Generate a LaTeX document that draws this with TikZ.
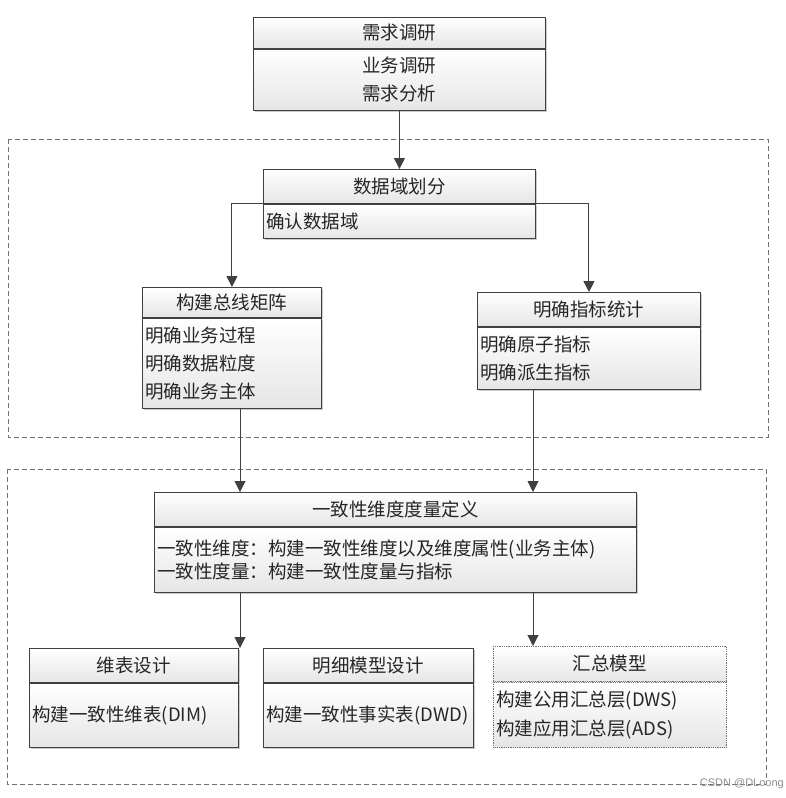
\documentclass[tikz,border=0pt]{standalone}
\usepackage{fontspec}
\setmainfont{Noto Sans CJK SC}
\newfontfamily\wmfont{Liberation Sans}
\usetikzlibrary{arrows.meta,shadows}
\tikzset{
  edge/.style={draw=black!75, line width=0.9pt},
  secbase/.style={top color=white, bottom color=black!10, inner sep=0pt, anchor=north west,
    font=\fontsize{18.5}{28}\selectfont, text=black!85},
  sec/.style={secbase, edge, drop shadow={shadow xshift=1.5pt, shadow yshift=-1.5pt, opacity=0.35, fill=black!60}},
  hdr/.style n args={2}{sec, minimum width=#1, minimum height=#2, align=center},
  bodyc/.style n args={2}{sec, minimum width=#1, minimum height=#2, align=center},
  bodyl/.style n args={2}{sec, text width=#1, inner xsep=3pt, minimum height=#2, align=left},
  dotsec/.style={secbase, draw=black!55, line width=0.8pt, densely dotted},
  region/.style={draw=black!55, line width=0.8pt, dash pattern=on 5pt off 3pt},
  arr/.style={draw=black!75, line width=1pt, -{Triangle[length=11pt,width=11pt]}},
}
\begin{document}
\begin{tikzpicture}[x=1pt,y=-1pt]
\useasboundingbox (0,0) rectangle (786,798);
% regions
\draw[region] (8,139) rectangle (768,437);
\draw[region] (7,469) rectangle (766,784);
% requirement
\node[hdr={292pt}{31pt}] (reqh) at (253,17) {需求调研};
\node[bodyc={292pt}{61pt}] (reqb) at (reqh.south west) {业务调研\\需求分析};
% data domain
\node[hdr={272pt}{34pt}] (dh) at (263,169) {数据域划分};
\node[bodyl={266pt}{34pt}] (db) at (dh.south west) {确认数据域};
% bus matrix
\node[hdr={179pt}{30pt}] (bush) at (142,287) {构建总线矩阵};
\node[bodyl={173pt}{90pt}] (busb) at (bush.south west) {明确业务过程\\明确数据粒度\\明确业务主体};
% indicators
\node[hdr={223pt}{34pt}] (idxh) at (477,292) {明确指标统计};
\node[bodyl={217pt}{62pt}] (idxb) at (idxh.south west) {明确原子指标\\明确派生指标};
% consistency
\node[hdr={482pt}{34pt}] (consh) at (154,492) {一致性维度度量定义};
\node[bodyl={476pt}{65pt}, font=\fontsize{18.5}{23}\selectfont] (consb) at (consh.south west)
  {一致性维度：构建一致性维度以及维度属性(业务主体)\\一致性度量：构建一致性度量与指标};
% bottom row
\node[hdr={209pt}{34pt}] (dimh) at (29,648) {维表设计};
\node[bodyl={203pt}{64pt}] (dimb) at (dimh.south west) {构建一致性维表(DIM)};
\node[hdr={210pt}{34pt}] (dwdh) at (263,648) {明细模型设计};
\node[bodyl={204pt}{64pt}] (dwdb) at (dwdh.south west) {构建一致性事实表(DWD)};
\node[dotsec, minimum width=233pt, minimum height=35pt, align=center] (dwsh) at (493,646) {汇总模型};
\node[dotsec, text width=227pt, inner xsep=3pt, minimum height=65pt, align=left,
  font=\fontsize{18.5}{29}\selectfont] (dwsb) at (dwsh.south west) {构建公用汇总层(DWS)\\构建应用汇总层(ADS)};
% connectors
\coordinate (xl) at (240,0);
\coordinate (xr) at (533,0);
\draw[arr] (reqb.south) -- (dh.north);
\draw[arr] (dh.south west) -| (bush.north);
\draw[arr] (dh.south east) -| (idxh.north);
\draw[arr] (busb.south -| xl) -- (consh.north -| xl);
\draw[arr] (idxb.south -| xr) -- (consh.north -| xr);
\draw[arr] (consb.south -| xl) -- (dimh.north -| xl);
\draw[arr] (consb.south -| xr) -- (dwsh.north -| xr);
% watermark
\node[font=\wmfont\fontsize{11}{13}\selectfont, text=black!45, anchor=south east, inner sep=0pt] (wm) at (784,789) {CSDN @DLoong};
\end{tikzpicture}
\end{document}
